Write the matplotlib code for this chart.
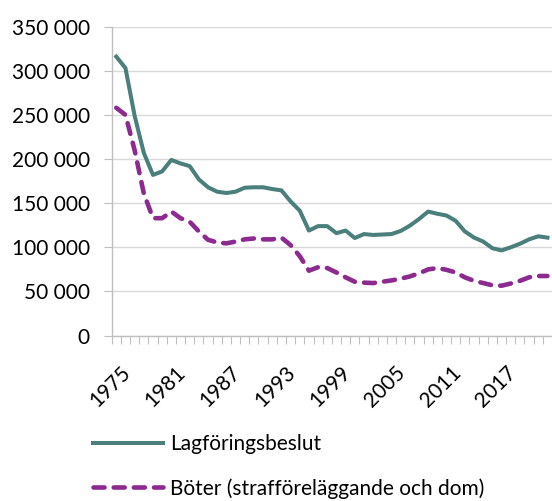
import matplotlib.pyplot as plt
import numpy as np
from matplotlib.ticker import FuncFormatter, FixedLocator
from matplotlib.transforms import ScaledTranslation

years = list(range(1975, 2023))

lagforing = [
    316000, 303000, 249000, 207000, 182000, 186000, 199000, 195000,
    192000, 177000, 168000, 163000, 161500, 163000, 167500, 168000,
    168000, 166000, 164500, 152000, 141500, 119000, 124000, 124000,
    116000, 119000, 110500, 115000, 114000, 114500, 115000, 118500,
    124500, 132000, 140500, 138000, 136000, 130000, 118000, 111000,
    106500, 99000, 96500, 100000, 104000, 109000, 112500, 111000,
]

boter = [
    258000, 250000, 210000, 161000, 133000, 133000, 140500, 133000,
    129000, 118000, 108500, 105500, 104500, 106500, 109000, 110000,
    109000, 109000, 111000, 102500, 90000, 73500, 77500, 76500,
    71500, 66000, 61000, 60000, 59500, 61000, 62500, 64500,
    67000, 70500, 75000, 76500, 74500, 71500, 66000, 62000,
    59500, 57000, 56500, 59000, 62000, 66000, 67500, 67500,
]

label_years = years[::6]

GREEN = "#4a7f7b"
PURPLE = "#8d2a8f"
GRID = "#d9d9d9"
AXIS = "#bfbfbf"

plt.rcParams["font.family"] = ["Lato", "DejaVu Sans"]
FS = 15

fig = plt.figure(figsize=(5.52, 5.01), dpi=100)
ax = fig.add_axes([111.7 / 552, 1 - 335.6 / 501, 1 - 111.7 / 552, (335.6 - 26.6) / 501])

x = np.arange(len(years))
ax.plot(x, lagforing, color=GREEN, lw=2.9, solid_joinstyle="round",
        label="Lagföringsbeslut", zorder=3)
ax.plot(x, boter, color=PURPLE, lw=3.3, dashes=(2.4, 2.0),
        dash_capstyle="round", label="Böter (strafföreläggande och dom)", zorder=3)

ax.set_xlim(-0.5, len(years) - 0.5)
ax.set_ylim(0, 350000)

ax.set_yticks(np.arange(0, 350001, 50000))
ax.yaxis.set_major_formatter(FuncFormatter(lambda v, p: f"{int(v):,}".replace(",", " ")))
ax.tick_params(axis="y", length=5.8, width=0.8, color=AXIS, pad=10, labelsize=FS)
ax.grid(axis="y", color=GRID, lw=1.0, zorder=0)

major_pos = [years.index(y) for y in label_years]
ax.set_xticks(major_pos)
ax.set_xticklabels([str(y) for y in label_years], rotation=45, ha="right",
                   va="top", rotation_mode="anchor")
ax.tick_params(axis="x", which="major", length=0, pad=19, labelsize=FS)
shift = ScaledTranslation(4 / 100, 0, fig.dpi_scale_trans)
for lbl in ax.get_xticklabels():
    lbl.set_transform(lbl.get_transform() + shift)
ax.xaxis.set_minor_locator(FixedLocator(np.arange(-0.5, len(years), 1.0)))
ax.tick_params(axis="x", which="minor", length=5.8, width=0.8, color=AXIS)

for s in ["top", "right"]:
    ax.spines[s].set_visible(False)
for s in ["left", "bottom"]:
    ax.spines[s].set_color(AXIS)
    ax.spines[s].set_linewidth(1.0)

fig.legend(loc="upper left", bbox_to_anchor=(93 / 552, 1 - 434 / 501),
           frameon=False, fontsize=FS, handlelength=3.35, handletextpad=0.36,
           labelspacing=1.15, borderpad=0, borderaxespad=0)

fig.savefig("out.png", dpi=100)
